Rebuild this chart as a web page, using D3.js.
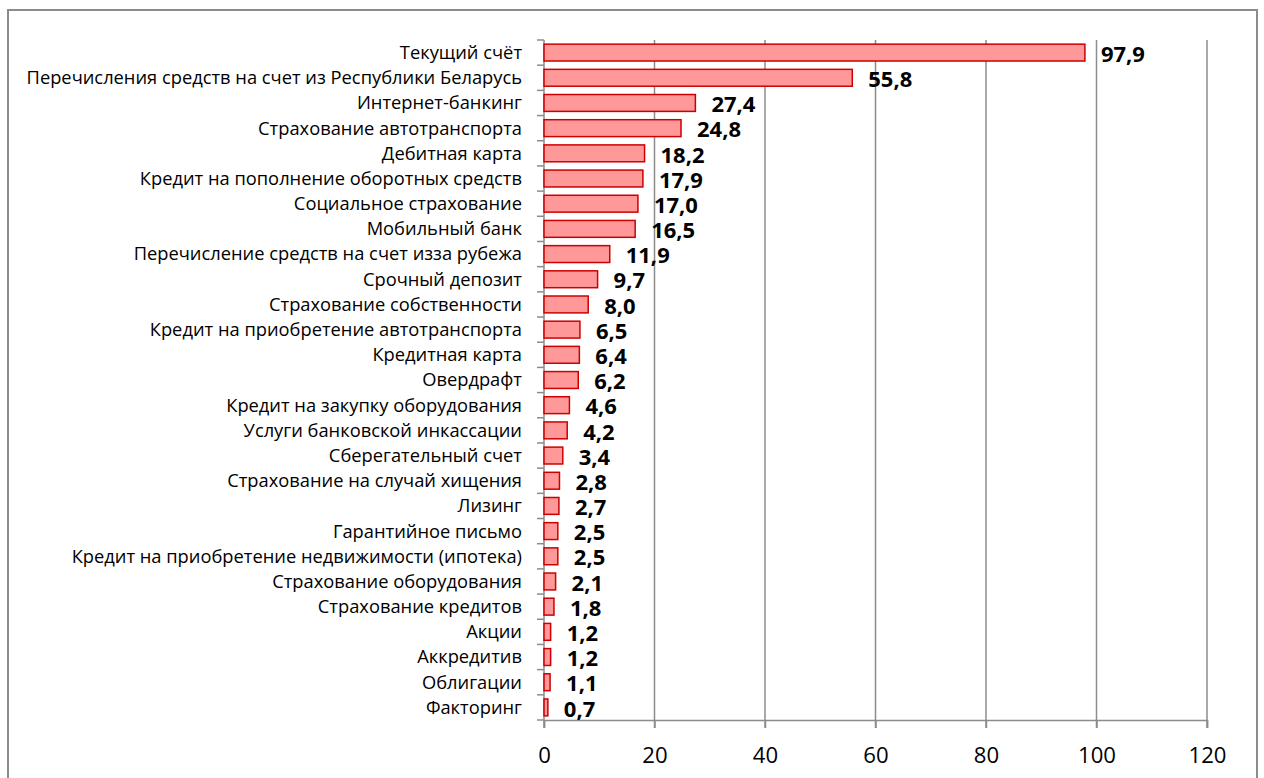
<!DOCTYPE html>
<html><head><meta charset="utf-8">
<script src="https://cdn.jsdelivr.net/npm/d3@7"></script>
<style>body{margin:0;background:#fff}svg{display:block}</style>
</head><body>
<svg id="c" width="1264" height="778"></svg>
<script>
const categories = ["Текущий счёт","Перечисления средств на счет из Республики Беларусь","Интернет-банкинг","Страхование автотранспорта","Дебитная карта","Кредит на пополнение оборотных средств","Социальное страхование","Мобильный банк","Перечисление средств на счет изза рубежа","Срочный депозит","Страхование собственности","Кредит на приобретение автотранспорта","Кредитная карта","Овердрафт","Кредит на закупку оборудования","Услуги банковской инкассации","Сберегательный счет","Страхование на случай хищения","Лизинг","Гарантийное письмо","Кредит на приобретение недвижимости (ипотека)","Страхование оборудования","Страхование кредитов","Акции","Аккредитив","Облигации","Факторинг"];
const values = [97.9,55.8,27.4,24.8,18.2,17.9,17.0,16.5,11.9,9.7,8.0,6.5,6.4,6.2,4.6,4.2,3.4,2.8,2.7,2.5,2.5,2.1,1.8,1.2,1.2,1.1,0.7];
const xTicks = [0,20,40,60,80,100,120];

const svg = d3.select("#c");
const font = "'Open Sans', sans-serif";
const m = {left:544, right:1207, top:40, bottom:720};
const x = d3.scaleLinear().domain([0,120]).range([m.left,m.right]);
const y = d3.scaleBand().domain(categories).range([m.top,m.bottom]).paddingInner(0.33).paddingOuter(0.165);
const grid = "#8c8c8c";

// font size fitted so a sample string has a target width
function fitSize(sample, target, weight){
  const t = svg.append("text").attr("font-family",font).attr("font-size",20)
    .attr("font-weight",weight).text(sample);
  const w = t.node().getComputedTextLength(); t.remove();
  return 20*target/w;
}
const catSize = fitSize(categories[1], 496, "normal");
const valSize = fitSize("97,9", 44, "bold");
const tickSize = fitSize("100", 38, "normal");

svg.append("rect").attr("x",8).attr("y",10).attr("width",1249).attr("height",780)
  .attr("fill","none").attr("stroke",grid).attr("stroke-width",2);

// gridlines
svg.append("g").selectAll("line").data(xTicks.slice(1)).join("line")
  .attr("x1",d=>x(d)).attr("x2",d=>x(d)).attr("y1",m.top).attr("y2",m.bottom+8)
  .attr("stroke",grid).attr("stroke-width",1.5);

// x axis
const xa = svg.append("g").attr("transform",`translate(0,${m.bottom})`)
  .call(d3.axisBottom(x).tickValues(xTicks).tickSize(8).tickPadding(0));
xa.select(".domain").attr("stroke",grid).attr("stroke-width",1.5);
xa.selectAll(".tick line").attr("stroke",grid).attr("stroke-width",1.5);
xa.selectAll("text").attr("y",35).attr("dy","0.35em")
  .attr("font-family",font).attr("font-size",tickSize).attr("fill","#000");

// y axis line and boundary ticks
svg.append("line").attr("x1",m.left).attr("x2",m.left).attr("y1",m.top).attr("y2",m.bottom+8)
  .attr("stroke",grid).attr("stroke-width",1.5);
const bounds = d3.range(categories.length+1).map(i=>m.top + (m.bottom-m.top)*i/categories.length);
svg.append("g").selectAll("line").data(bounds).join("line")
  .attr("x1",m.left-7).attr("x2",m.left).attr("y1",d=>d).attr("y2",d=>d)
  .attr("stroke",grid).attr("stroke-width",1.5);

// category labels
svg.append("g").selectAll("text").data(categories).join("text")
  .attr("x",522).attr("y",d=>y(d)+y.bandwidth()/2).attr("dy","0.35em")
  .attr("text-anchor","end").attr("font-family",font).attr("font-size",catSize).attr("fill","#000")
  .text(d=>d);

// bars
svg.append("g").selectAll("rect").data(values).join("rect")
  .attr("x",x(0)).attr("y",(d,i)=>y(categories[i]))
  .attr("width",d=>x(d)-x(0)).attr("height",y.bandwidth())
  .attr("fill","#ff9999").attr("stroke","#cc0000").attr("stroke-width",1.5);

// value labels
svg.append("g").selectAll("text").data(values).join("text")
  .attr("x",d=>x(d)+16).attr("y",(d,i)=>y(categories[i])+y.bandwidth()/2+1.5).attr("dy","0.35em")
  .attr("font-family",font).attr("font-size",valSize).attr("font-weight","bold").attr("fill","#000")
  .text(d=>d.toFixed(1).replace(".",","));
</script>
</body></html>
